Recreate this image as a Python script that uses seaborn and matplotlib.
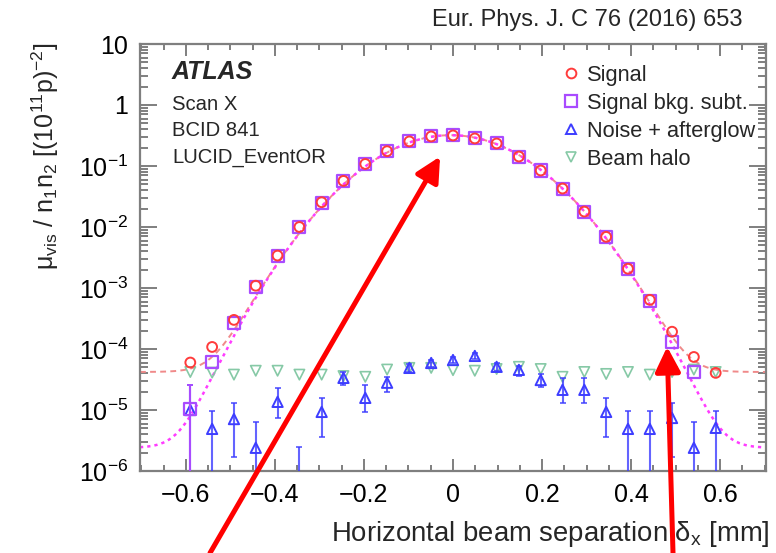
import numpy as np
import pandas as pd
import matplotlib
matplotlib.use("Agg")
import matplotlib.pyplot as plt
import seaborn as sns
from matplotlib.lines import Line2D
from matplotlib.ticker import MultipleLocator, LogLocator, FuncFormatter, NullFormatter

sns.set_theme(style="ticks")
plt.rcParams["font.family"] = ["Liberation Sans", "DejaVu Sans"]
plt.rcParams["mathtext.fontset"] = "custom"
plt.rcParams["mathtext.rm"] = "Liberation Sans"
plt.rcParams["mathtext.it"] = "Liberation Sans:italic"
plt.rcParams["mathtext.bf"] = "Liberation Sans:bold"
plt.rcParams["mathtext.sf"] = "Liberation Sans"
plt.rcParams["mathtext.default"] = "regular"

# Horizontal beam separation of each scan step [mm]
separation = [-0.590, -0.541, -0.492, -0.443, -0.394, -0.345, -0.295, -0.246,
              -0.197, -0.148, -0.098, -0.049, 0.000, 0.049, 0.098, 0.148,
              0.197, 0.246, 0.295, 0.344, 0.393, 0.442, 0.492, 0.541, 0.590]

# Specific visible interaction rate, mu_vis / (n1 n2)
signal = [6.0e-5, 1.08e-4, 3.0e-4, 1.09e-3, 3.4e-3, 1.0e-2, 2.55e-2, 5.7e-2,
          0.108, 0.175, 0.253, 0.305, 0.317, 0.283, 0.234, 0.143,
          0.0844, 0.0427, 0.0179, 6.9e-3, 2.07e-3, 6.4e-4, 1.92e-4, 7.4e-5, 4.06e-5]

signal_bkg_subt = [1.05e-5, 6.2e-5, 2.7e-4, 1.05e-3, 3.35e-3, 1.0e-2, 2.5e-2, 5.65e-2,
                   0.107, 0.175, 0.253, 0.305, 0.317, 0.283, 0.234, 0.143,
                   0.0844, 0.0427, 0.0179, 6.85e-3, 2.05e-3, 6.2e-4, 1.31e-4, 4.2e-5, np.nan]
subt_low = [0.0] + [np.nan] * 24
subt_high = [2.6e-5] + [np.nan] * 24

noise_afterglow = [1.0e-5, 4.9e-6, 7.1e-6, 2.4e-6, 1.36e-5, 8.0e-7, 9.3e-6, 3.36e-5,
                   1.58e-5, 2.8e-5, 4.9e-5, 5.9e-5, 6.6e-5, 7.7e-5, 5.1e-5, 4.55e-5,
                   3.1e-5, 2.14e-5, 2.14e-5, 9.3e-6, 4.9e-6, 4.9e-6, 7.4e-6, 2.4e-6, 5.1e-6]
noise_low = [0.0, 0.0, 1.7e-6, 0.0, 7.4e-6, 0.0, 3.6e-6, 2.6e-5,
             9.3e-6, 2.0e-5, 4.2e-5, 5.0e-5, 5.8e-5, 6.8e-5, 4.4e-5, 3.6e-5,
             2.4e-5, 1.3e-5, 1.3e-5, 3.6e-6, 0.0, 0.0, 1.7e-6, 0.0, 0.0]
noise_high = [2.6e-5, 9.7e-6, 1.3e-5, 6.4e-6, 2.3e-5, 2.5e-6, 1.58e-5, 4.2e-5,
              2.6e-5, 3.5e-5, 5.7e-5, 6.7e-5, 7.4e-5, 8.6e-5, 5.9e-5, 5.3e-5,
              3.9e-5, 3.4e-5, 3.3e-5, 1.58e-5, 9.7e-6, 9.7e-6, 1.3e-5, 6.4e-6, 9.7e-6]

beam_halo = [4.2e-5, 4.1e-5, 3.8e-5, 4.4e-5, 4.4e-5, 3.8e-5, 3.8e-5, 3.6e-5,
             3.5e-5, 4.6e-5, 4.9e-5, 4.9e-5, 4.5e-5, 4.4e-5, 4.7e-5, 5.1e-5,
             4.7e-5, 3.5e-5, 4.2e-5, 3.9e-5, 4.2e-5, 3.8e-5, 4.2e-5, 4.6e-5, 4.2e-5]

# Gaussian + constant fit parameters
fit_amp, fit_mean, fit_sigma = 0.32, -0.005, 0.125
fit_const_signal = 4.2e-5
fit_const_subt = 2.4e-6

legend_labels = ["Signal", "Signal bkg. subt.", "Noise + afterglow", "Beam halo"]

C_SIG = "#ff3b3b"
C_SUB = "#a94bff"
C_NOISE = "#3d3dff"
C_HALO = "#86c9a6"
C_FIT_SIG = "#f08a8a"
C_FIT_SUB = "#ff3cff"
GREY = "#7f7f7f"

df = pd.DataFrame({
    "sep": separation, "signal": signal, "subt": signal_bkg_subt,
    "noise": noise_afterglow, "halo": beam_halo,
})

W, H = 776, 553
fig = plt.figure(figsize=(W / 100, H / 100), dpi=100)
ax = fig.add_axes([140 / W, 82 / H, 626 / W, 427 / H])
ax.set_yscale("log")
ax.set_xlim(-0.703, 0.703)
ax.set_ylim(1e-6, 10)

# fitted curves
xf = np.linspace(-0.703, 0.703, 400)
gauss = fit_amp * np.exp(-(xf - fit_mean) ** 2 / (2 * fit_sigma ** 2))
sns.lineplot(x=xf, y=gauss + fit_const_signal, ax=ax, color=C_FIT_SIG, lw=1.4,
             linestyle=(0, (3, 2.2)), zorder=2)
sns.lineplot(x=xf, y=gauss + fit_const_subt, ax=ax, color=C_FIT_SUB, lw=1.8,
             linestyle=(0, (1.3, 1.6)), zorder=2)

# beam halo
sns.scatterplot(data=df, x="sep", y="halo", ax=ax, marker="v", s=55,
                facecolor="none", edgecolor=C_HALO, linewidth=1.2, zorder=3)

# noise + afterglow with asymmetric errors
noise = np.array(noise_afterglow)
yerr = [noise - np.array(noise_low), np.array(noise_high) - noise]
ax.errorbar(separation, noise, yerr=yerr, fmt="none", ecolor=C_NOISE, elinewidth=1.5,
            capsize=2.5, capthick=1.3, alpha=0.8, zorder=4)
sns.scatterplot(data=df, x="sep", y="noise", ax=ax, marker="^", s=55,
                facecolor="none", edgecolor=C_NOISE, linewidth=1.4, zorder=5)

# background-subtracted signal
subt = np.array(signal_bkg_subt)
serr = [subt - np.array(subt_low), np.array(subt_high) - subt]
ax.errorbar(separation, subt, yerr=serr, fmt="none", ecolor=C_SUB, elinewidth=1.5,
            capsize=2.5, capthick=1.3, zorder=5)
sns.scatterplot(data=df, x="sep", y="subt", ax=ax, marker="s", s=75,
                facecolor="none", edgecolor=C_SUB, linewidth=1.6, zorder=6)

# raw signal
sns.scatterplot(data=df, x="sep", y="signal", ax=ax, marker="o", s=50,
                facecolor="none", edgecolor=C_SIG, linewidth=1.4, zorder=7)

ax.set_xlabel("")
ax.set_ylabel("")

# axes styling
for sp in ax.spines.values():
    sp.set_visible(True)
    sp.set_color(GREY)
    sp.set_linewidth(1.6)
ax.xaxis.set_major_locator(MultipleLocator(0.2))
ax.xaxis.set_minor_locator(MultipleLocator(0.05))
ax.yaxis.set_major_locator(LogLocator(base=10, numticks=20))
ax.yaxis.set_minor_locator(LogLocator(base=10, subs=np.arange(2, 10), numticks=20))
ax.yaxis.set_minor_formatter(NullFormatter())


def xfmt(v, pos):
    if abs(v) < 1e-9:
        return "0"
    return ("\u2212" if v < 0 else "") + f"{abs(v):.1f}"


def yfmt(v, pos):
    e = int(round(np.log10(v)))
    if e == 1:
        return "10"
    if e == 0:
        return "1"
    return r"$10^{%d}$" % e


ax.xaxis.set_major_formatter(FuncFormatter(xfmt))
ax.yaxis.set_major_formatter(FuncFormatter(yfmt))
ax.tick_params(which="both", direction="in", top=True, right=True, color=GREY,
               labelcolor="black", width=1.4)
ax.tick_params(axis="x", which="major", length=8.6, pad=9, labelsize=18)
ax.tick_params(axis="x", which="minor", length=4.3)
ax.tick_params(axis="y", which="major", length=12.2, pad=8.5, labelsize=18)
ax.tick_params(axis="y", which="minor", length=5.8)

# axis titles
fig.text(770 / W, 1 - 541 / H, r"Horizontal beam separation $\delta_{x}$ [mm]",
         ha="right", va="baseline", fontsize=19.8)
fig.text(45 / W, 1 - 43 / H,
         r"$\mu_{vis}$ / n$_{1}$n$_{2}$ [(10$^{11}$p)$^{-2}$]",
         rotation=90, ha="center", va="top", fontsize=18)

# journal reference
fig.text(743 / W, 1 - 26 / H, "Eur. Phys. J. C 76 (2016) 653", ha="right",
         va="baseline", fontsize=17)

# ATLAS block
fig.text(172 / W, 1 - 79 / H, "ATLAS", fontsize=18, fontweight="bold",
         fontstyle="italic", va="baseline")
for txt, yb in zip(["Scan X", "BCID 841", "LUCID_EventOR"], [109.5, 136.5, 162.5]):
    fig.text(172 / W, 1 - yb / H, txt, fontsize=14.6, va="baseline")

# legend
handles = [
    Line2D([], [], ls="none", marker="o", ms=7, mfc="none", mec=C_SIG, mew=1.4),
    Line2D([], [], ls="none", marker="s", ms=8, mfc="none", mec=C_SUB, mew=1.6),
    Line2D([], [], ls="none", marker="^", ms=7, mfc="none", mec=C_NOISE, mew=1.4),
    Line2D([], [], ls="none", marker="v", ms=7, mfc="none", mec=C_HALO, mew=1.2),
]
leg = ax.legend(handles, legend_labels, loc="upper left",
                bbox_to_anchor=(561 / W, 1 - 65 / H), bbox_transform=fig.transFigure,
                frameon=False, fontsize=15.7, handlelength=0.9, handletextpad=0.3,
                labelspacing=0.32, borderpad=0, borderaxespad=0)

# red annotation arrows
for tip, tail_x in [((-0.029, 0.143), 210 / W), ((0.481, 1.09e-4), 673 / W)]:
    ax.annotate("", xy=tip, xycoords="data", xytext=(tail_x, 0.0),
                textcoords="figure fraction", annotation_clip=False,
                arrowprops=dict(arrowstyle="-|>,head_length=0.75,head_width=0.38",
                                mutation_scale=20, color="#ff0000", lw=3.6,
                                shrinkA=0, shrinkB=0), zorder=10)

fig.savefig("out.png", dpi=100)
